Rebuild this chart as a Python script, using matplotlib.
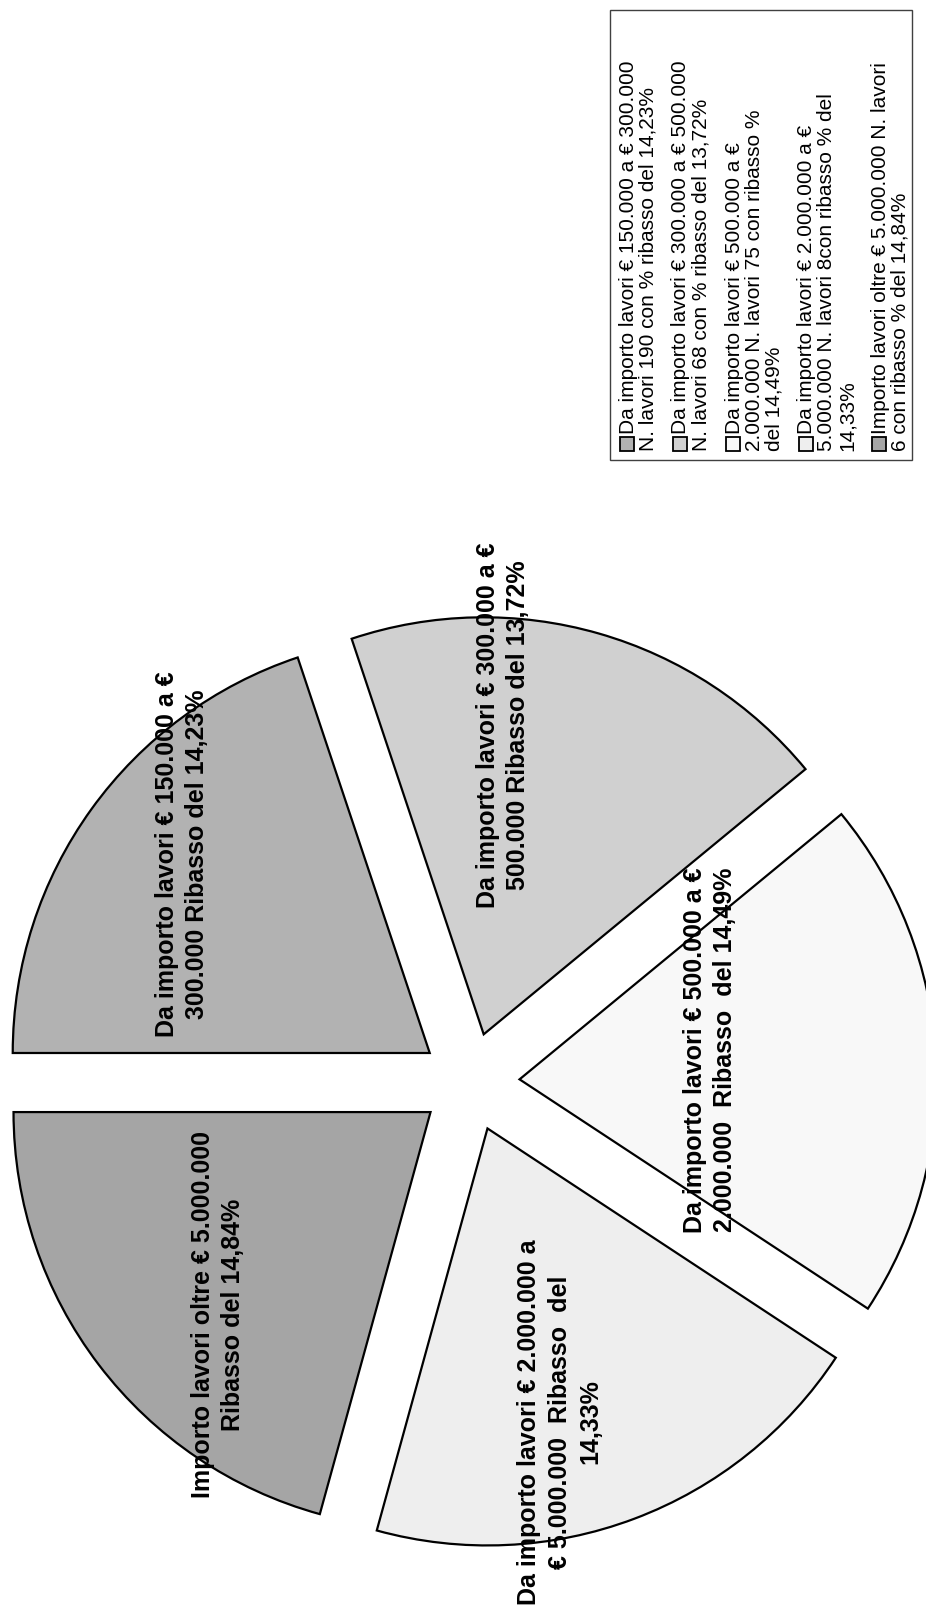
import matplotlib
matplotlib.use('Agg')
import matplotlib.pyplot as plt
from matplotlib.patches import Rectangle

plt.rcParams['font.family'] = ['Liberation Sans', 'DejaVu Sans']

# ribasso medio per fascia di importo (i valori della torta)
ribasso = [14.23, 13.72, 14.49, 14.33, 14.84]
n_lavori = [190, 68, 75, 8, 6]
colori = ['#b2b2b2', '#d0d0d0', '#f8f8f8', '#eeeeee', '#a5a5a5']

etichette = [
    'Da importo lavori € 150.000 a €\n300.000 Ribasso del 14,23%',
    'Da importo lavori € 300.000 a €\n500.000 Ribasso del 13,72%',
    'Da importo lavori € 500.000 a €\n2.000.000  Ribasso  del 14,49%',
    'Da importo lavori € 2.000.000 a\n€ 5.000.000  Ribasso  del\n14,33%',
    'Importo lavori oltre € 5.000.000\nRibasso del 14,84%',
]
legenda = [
    'Da importo lavori € 150.000 a € 300.000\nN. lavori 190 con % ribasso del 14,23%',
    'Da importo lavori € 300.000 a € 500.000\nN. lavori 68 con % ribasso del 13,72%',
    'Da importo lavori € 500.000 a €\n2.000.000 N. lavori 75 con ribasso %\ndel 14,49%',
    'Da importo lavori € 2.000.000 a €\n5.000.000 N. lavori 8con ribasso % del\n14,33%',
    'Importo lavori oltre € 5.000.000 N. lavori\n6 con ribasso % del 14,84%',
]

W, H = 926, 1619
fig = plt.figure(figsize=(W / 100, H / 100), dpi=100)
ax = fig.add_axes([0, 0, 1, 1])

# torta ruotata: centro e raggio in pixel della figura
cx, cy, r = 470, H - 1082, 417
wedges, _ = ax.pie(ribasso, colors=colori, startangle=180, counterclock=False,
                   explode=[0.119 * r] * 5, radius=r, center=(cx, cy), frame=True,
                   wedgeprops=dict(edgecolor='black', linewidth=1.6))
ax.set_xlim(0, W)
ax.set_ylim(0, H)
ax.set_aspect('equal')
ax.axis('off')

# posizione delle etichette (pixel, dall'alto)
pos_etich = [(182, 854), (503, 725), (710, 1050), (560, 1422), (218, 1315)]
for (x, y), t in zip(pos_etich, etichette):
    ax.text(x, H - y, t, rotation=90, ha='center', va='center',
            multialignment='center', fontsize=18, fontweight='bold',
            linespacing=1.35, color='black')

# legenda disegnata a mano, ruotata
box = Rectangle((610, H - 460), 912 - 610, 450, facecolor='white',
                edgecolor='#404040', linewidth=1.0)
ax.add_patch(box)
x0 = 627
passo = 20
gap = 13
fs = 15
for i, (t, c) in enumerate(zip(legenda, colori)):
    ax.add_patch(Rectangle((x0 - 7, H - 451), 14, 14, facecolor=c,
                           edgecolor='black', linewidth=1.3))
    righe = t.split('\n')
    ax.text(x0 + 1, H - 434, righe[0], rotation=90, ha='center', va='bottom',
            fontsize=fs)
    for k, riga in enumerate(righe[1:], start=1):
        ax.text(x0 + 1 + k * passo, H - 451, riga, rotation=90, ha='center',
                va='bottom', fontsize=fs)
    x0 += len(righe) * passo + gap

fig.savefig('out.png', dpi=100)
